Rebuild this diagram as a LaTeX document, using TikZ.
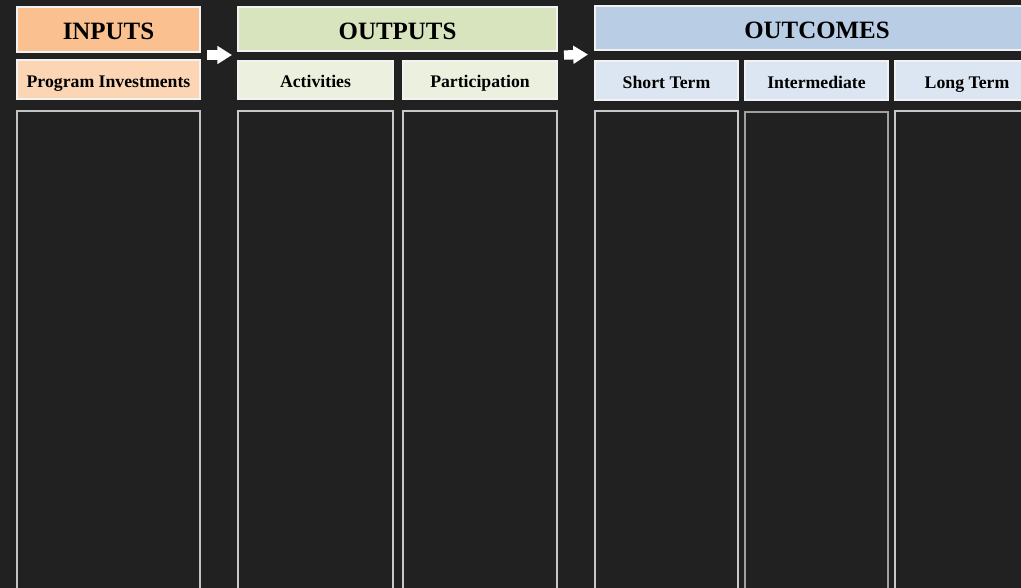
\documentclass[tikz,border=0pt]{standalone}
\usepackage{fontspec}
\setmainfont{Liberation Serif}
\usetikzlibrary{arrows.meta,calc}
\definecolor{bg}{HTML}{212121}
\definecolor{inHead}{HTML}{FAC090}
\definecolor{inSub}{HTML}{FCD5B5}
\definecolor{outHead}{HTML}{D7E4BD}
\definecolor{outSub}{HTML}{EBF1DE}
\definecolor{ocHead}{HTML}{B9CDE5}
\definecolor{ocSub}{HTML}{DCE6F2}
\definecolor{hdrline}{HTML}{F2F2F2}
\definecolor{colline}{HTML}{C8C8C8}
\begin{document}
\begin{tikzpicture}[x=0.75pt,y=-0.75pt,
  sz/.style 2 args={minimum width=#1*0.75pt, minimum height=#2*0.75pt},
  base/.style={anchor=north west, inner sep=0pt, outer sep=0pt, line width=0.9pt},
  head/.style={base, draw=hdrline, fill=#1, font=\bfseries\fontsize{18.7}{20}\selectfont, text=black, text height=15.2pt, text depth=0pt},
  sub/.style={base, draw=hdrline, fill=#1, font=\bfseries\fontsize{13.3}{15}\selectfont, text=black, text height=11.6pt, text depth=0pt},
  column/.style={base, draw=#1, fill=bg},
  flow/.style={draw=white, line width=7pt, -{Triangle[length=11pt,width=13pt]}}]
\useasboundingbox (0,0) rectangle (1021,587);
\fill[bg] (-20,-20) rectangle (1041,607);

% INPUTS
\node[head=inHead, sz={183}{45}] (inH) at (17,7) {INPUTS};
\node[sub=inSub, sz={183}{39}] (inS) at (17,60) {Program Investments};
\node[column=colline!110, sz={183}{520}] (inC) at (17,111) {};

% OUTPUTS
\node[head=outHead, sz={319}{44}] (outH) at (238,7) {OUTPUTS};
\node[sub=outSub, sz={155}{38}] (actS) at (238,61) {Activities};
\node[sub=outSub, sz={154}{38}] (parS) at (403,61) {Participation};
\node[column=colline, sz={155}{520}] (actC) at (238,111) {};
\node[column=colline, sz={154}{520}] (parC) at (403,111) {};

% OUTCOMES
\node[head=ocHead, sz={444}{44}] (ocH) at (595,6) {OUTCOMES};
\node[sub=ocSub, sz={143}{39}] (stS) at (595,61) {Short Term};
\node[sub=ocSub, sz={143}{39}] (imS) at (745,61) {Intermediate};
\node[sub=ocSub, sz={144}{39}] (ltS) at (895,61) {Long Term};
\node[column=colline, sz={143}{520}] (stC) at (595,111) {};
\node[column=colline!80!black, sz={143}{520}] (imC) at (745,112) {};
\node[column=colline, sz={144}{520}] (ltC) at (895,111) {};

% arrows
\coordinate (a1s) at ($(inH.south east)!0.5!(inS.north east)+(7,-1)$);
\coordinate (a1e) at ($(outH.south west)!0.5!(actS.north west)+(-6,-1)$);
\coordinate (a2s) at ($(outH.south east)!0.5!(parS.north east)+(7,-1)$);
\coordinate (a2e) at ($(ocH.south west)!0.5!(stS.north west)+(-7,-1)$);
\draw[flow] (a1s) -- (a1e);
\draw[flow] (a2s) -- (a2e);
\end{tikzpicture}
\end{document}
